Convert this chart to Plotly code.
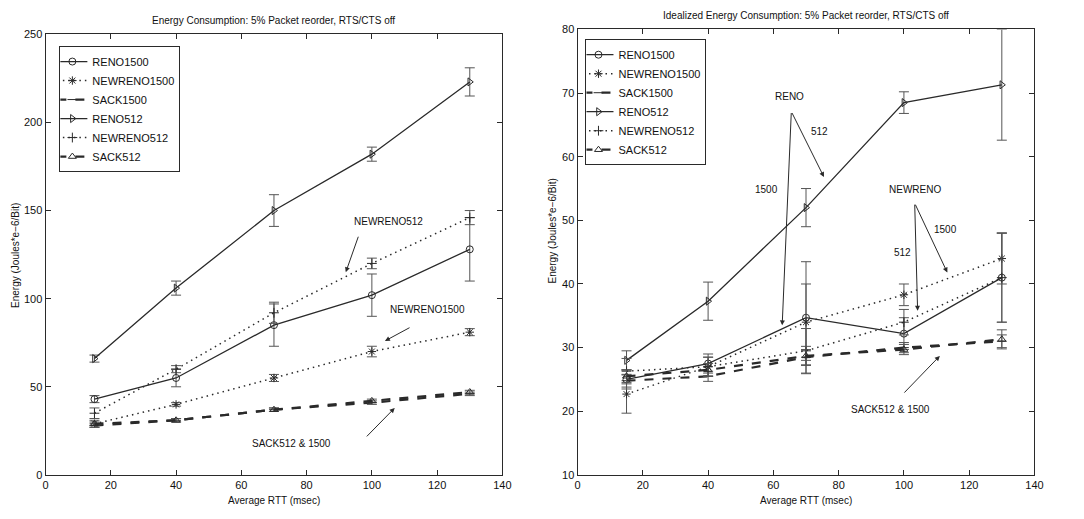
import plotly.graph_objects as go

# Average RTT (msec) at which each configuration was measured
rtt = [15, 40, 70, 100, 130]

# Energy consumption (Joules*e-6/Bit) and error bar half-widths
reno1500 = [43, 55, 85, 102, 128]
reno1500_err = [2, 5, 12, 12, 18]
newreno1500 = [29, 40, 55, 70, 81]
newreno1500_err = [2, 1, 2, 3, 2]
sack1500 = [28, 31, 37, 41, 46]
sack1500_err = [1, 1, 1, 1, 1]
reno512 = [66, 106, 150, 182, 223]
reno512_err = [2, 4, 9, 4, 8]
newreno512 = [35, 60, 92, 120, 146]
newreno512_err = [3, 2, 6, 3, 4]
sack512 = [29, 31, 37, 42, 47]
sack512_err = [1, 1, 1, 1, 1]

# Idealized energy consumption (Joules*e-6/Bit)
i_reno1500 = [25, 27.5, 34.7, 32.2, 41]
i_reno1500_err = [1.5, 1.5, 8.8, 2.5, 7]
i_newreno1500 = [22.7, 27, 34, 38.3, 44]
i_newreno1500_err = [3, 1.5, 6, 1.7, 4]
i_sack1500 = [24.8, 25.5, 28.5, 30, 31]
i_sack1500_err = [1, 0.8, 1.2, 0.8, 1]
i_reno512 = [28, 37.3, 52, 68.5, 71.3]
i_reno512_err = [1.5, 3, 3, 1.7, 8.7]
i_newreno512 = [26.3, 27, 29.5, 34, 41]
i_newreno512_err = [2, 1.5, 3.5, 2, 7]
i_sack512 = [25.5, 26.5, 28.7, 29.7, 31.3]
i_sack512_err = [1, 1, 1.5, 0.8, 1.5]

series_names = ["RENO1500", "NEWRENO1500", "SACK1500", "RENO512", "NEWRENO512", "SACK512"]

INK = "#2a2a2a"
FONT = "Liberation Sans"

styles = {
    "RENO1500": dict(symbol="circle-open", dash="solid", width=1.3),
    "NEWRENO1500": dict(symbol="asterisk-open", dash="1.5px,4px", width=1.5),
    "SACK1500": dict(symbol="line-ew-open", dash="dash", width=2.2),
    "RENO512": dict(symbol="triangle-right-open", dash="solid", width=1.3),
    "NEWRENO512": dict(symbol="cross-thin-open", dash="1.5px,4px", width=1.5),
    "SACK512": dict(symbol="triangle-up-open", dash="dash", width=2.2),
}

left_data = {
    "RENO1500": (reno1500, reno1500_err),
    "NEWRENO1500": (newreno1500, newreno1500_err),
    "SACK1500": (sack1500, sack1500_err),
    "RENO512": (reno512, reno512_err),
    "NEWRENO512": (newreno512, newreno512_err),
    "SACK512": (sack512, sack512_err),
}
right_data = {
    "RENO1500": (i_reno1500, i_reno1500_err),
    "NEWRENO1500": (i_newreno1500, i_newreno1500_err),
    "SACK1500": (i_sack1500, i_sack1500_err),
    "RENO512": (i_reno512, i_reno512_err),
    "NEWRENO512": (i_newreno512, i_newreno512_err),
    "SACK512": (i_sack512, i_sack512_err),
}

fig = go.Figure()


def add_series(data, xa, ya, legend):
    for name in series_names:
        vals, err = data[name]
        st = styles[name]
        fig.add_trace(go.Scatter(
            x=rtt, y=vals, name=name, mode="lines+markers",
            xaxis=xa, yaxis=ya, legend=legend,
            line=dict(color=INK, dash=st["dash"], width=st["width"]),
            marker=dict(symbol=st["symbol"], size=7, color=INK,
                        line=dict(color=INK, width=1)),
            error_y=dict(type="data", array=err, visible=True,
                         color="#555555", thickness=1, width=5),
        ))


add_series(left_data, "x", "y", "legend")
add_series(right_data, "x2", "y2", "legend2")

W, H = 1084, 519


def fx(px):
    return px / W


def fy(py):
    return 1 - py / H


axis_common = dict(
    showgrid=False, zeroline=False, showline=True, mirror="ticks",
    linecolor=INK, linewidth=1, ticks="inside", ticklen=5,
    tickcolor=INK, tickfont=dict(family=FONT, size=11, color="#111"),
)

legend_common = dict(
    xanchor="left", yanchor="top", bordercolor=INK, borderwidth=1,
    bgcolor="white", font=dict(family=FONT, size=11), itemwidth=30,
    tracegroupgap=0, indentation=-8,
)

fig.update_layout(
    width=W, height=H,
    margin=dict(l=0, r=0, t=0, b=0),
    paper_bgcolor="white", plot_bgcolor="white",
    font=dict(family=FONT, size=10, color="#111"),
    xaxis=dict(domain=[fx(43), fx(505)], range=[0, 140], dtick=20,
               anchor="y", **axis_common),
    yaxis=dict(domain=[fy(480), fy(29)], range=[0, 250], dtick=50,
               anchor="x", **axis_common),
    xaxis2=dict(domain=[fx(581), fx(1043)], range=[0, 140], dtick=20,
                anchor="y2", **axis_common),
    yaxis2=dict(domain=[fy(480), fy(24)], range=[10, 80], dtick=10,
                anchor="x2", **axis_common),
    legend=dict(x=fx(57), y=fy(41), **legend_common),
    legend2=dict(x=fx(589), y=fy(34), **legend_common),
    showlegend=True,
)

ann = []


def label(text, x, y, xref, yref, size=10, **kw):
    ann.append(dict(text=text, x=x, y=y, xref=xref, yref=yref,
                    xanchor="center", yanchor="middle",
                    showarrow=False, font=dict(family=FONT, size=size, color="#111"), **kw))


def arrow(x, y, ax, ay, xref, yref):
    ann.append(dict(text="", x=x, y=y, ax=ax, ay=ay, xref=xref, yref=yref,
                    axref=xref, ayref=yref, showarrow=True, arrowhead=2,
                    arrowsize=1, arrowwidth=1, arrowcolor=INK))


# Titles and axis labels
label("Energy Consumption: 5% Packet reorder, RTS/CTS off", fx(274), fy(15), "paper", "paper")
label("Idealized Energy Consumption: 5% Packet reorder, RTS/CTS off", fx(812), fy(10), "paper", "paper")
label("Average RTT (msec)", fx(274), fy(506), "paper", "paper")
label("Average RTT (msec)", fx(812), fy(506), "paper", "paper")
label("Energy (Joules*e\u22126/Bit)", fx(12), fy(255), "paper", "paper", textangle=-90)
label("Energy (Joules*e\u22126/Bit)", fx(556), fy(230), "paper", "paper", textangle=-90)

# Left panel call-outs
label("NEWRENO512", 105, 144, "x", "y")
arrow(92, 115, 96, 136, "x", "y")
label("NEWRENO1500", 117, 94, "x", "y")
arrow(104, 76, 112, 84, "x", "y")
label("SACK512 & 1500", 75.5, 18, "x", "y")
arrow(107, 38, 98, 21, "x", "y")

# Right panel call-outs
label("RENO", 65, 69.4, "x2", "y2")
label("512", 74, 64, "x2", "y2")
label("1500", 58, 54.8, "x2", "y2")
arrow(75.5, 56.8, 65.5, 67.1, "x2", "y2")
arrow(62.7, 33.5, 65.5, 67.1, "x2", "y2")
label("NEWRENO", 103.3, 54.8, "x2", "y2")
label("1500", 112.7, 48.5, "x2", "y2")
label("512", 99.7, 45, "x2", "y2")
arrow(113.3, 41.8, 103.3, 52.7, "x2", "y2")
arrow(104.2, 35.8, 103.3, 52.7, "x2", "y2")
label("SACK512 & 1500", 96, 20.3, "x2", "y2")
arrow(111, 28.7, 99.7, 22.7, "x2", "y2")

fig.update_layout(annotations=ann)

fig.write_html("out.html")
